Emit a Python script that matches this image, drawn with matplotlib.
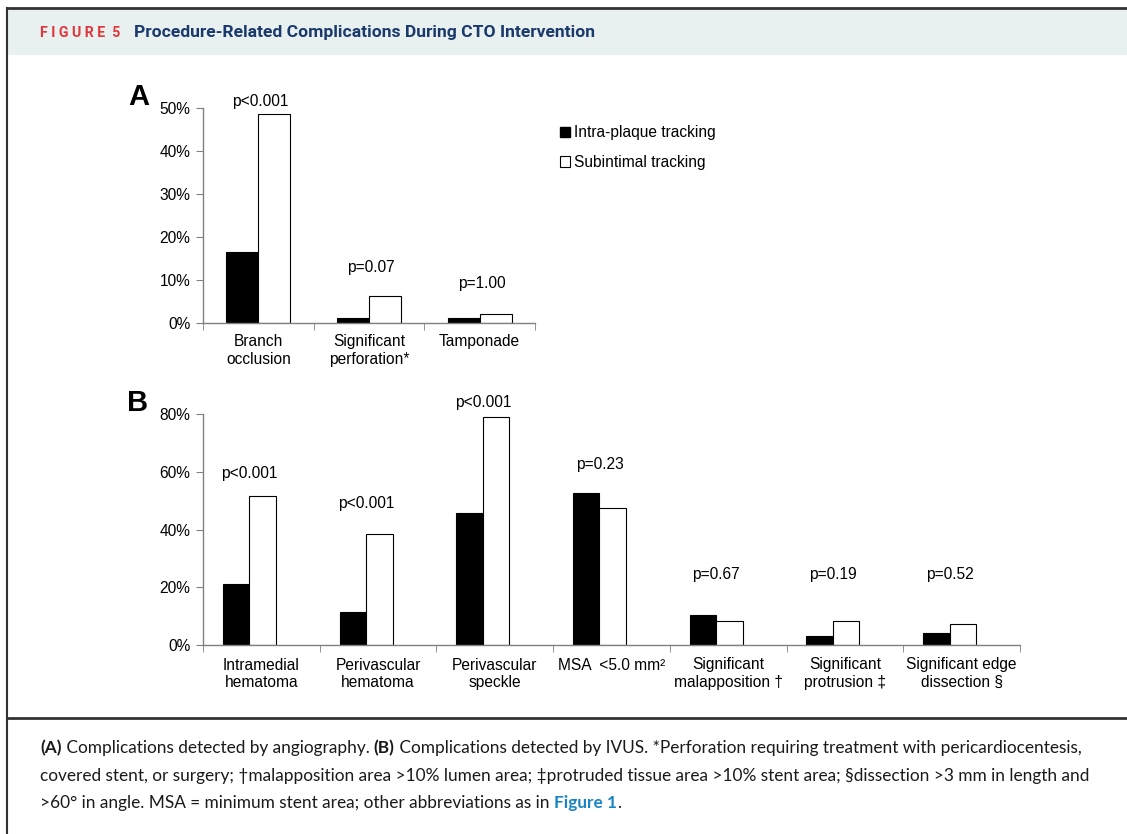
import matplotlib
matplotlib.use("Agg")
from matplotlib import pyplot as plt
from matplotlib.patches import Patch, Rectangle
from matplotlib.lines import Line2D
import numpy as np

# Data (percent of patients)
cats_a = ["Branch\nocclusion", "Significant\nperforation*", "Tamponade"]
intra_a = [16.4, 1.2, 1.2]
sub_a = [48.5, 6.3, 2.0]
pvals_a = ["p<0.001", "p=0.07", "p=1.00"]
pval_y_a = [51.6, 13.0, 9.3]

cats_b = ["Intramedial\nhematoma", "Perivascular\nhematoma", "Perivascular\nspeckle",
          "MSA  <5.0 mm\u00b2", "Significant\nmalapposition \u2020",
          "Significant\nprotrusion \u2021", "Significant edge\ndissection \u00a7"]
intra_b = [21.0, 11.6, 45.9, 52.7, 10.3, 3.1, 4.2]
sub_b = [51.8, 38.6, 78.9, 47.5, 8.4, 8.4, 7.2]
pvals_b = ["p<0.001", "p<0.001", "p<0.001", "p=0.23", "p=0.67", "p=0.19", "p=0.52"]
pval_y_b = [59.6, 48.9, 84.2, 62.7, 24.6, 24.6, 24.6]

legend_labels = ["Intra-plaque tracking", "Subintimal tracking"]

W, H = 1127, 834
FS = 11.2
plt.rcParams['font.family'] = ['Liberation Sans', 'DejaVu Sans']
fig = plt.figure(figsize=(W / 100, H / 100), dpi=100)


def fx(x):
    return x / W


def fy(y):
    return 1 - y / H


# frame, header band and separator
fig.add_artist(Rectangle((fx(8), fy(55)), 1, fy(9) - fy(55), transform=fig.transFigure,
                         facecolor="#e8f1f0", edgecolor="none"))
fig.add_artist(Line2D([fx(7), 1], [fy(8), fy(8)], transform=fig.transFigure, color="#333333", lw=2))
fig.add_artist(Line2D([fx(7), fx(7)], [0, fy(8)], transform=fig.transFigure, color="#333333", lw=1.5))
fig.add_artist(Line2D([fx(7), 1], [fy(718), fy(718)], transform=fig.transFigure, color="#333333", lw=2))

hdr_font = ['Roboto', 'DejaVu Sans']
fig.text(fx(40), fy(33), "F I G U R E  5", color="#e0373c", fontsize=10.2, fontweight="bold",
         family=hdr_font, va="center")
fig.text(fx(134), fy(33), "Procedure-Related Complications During CTO Intervention",
         color="#1b3a6b", fontsize=12.6, fontweight="bold", family=hdr_font, va="center")


def style_axes(ax, n, ymax, step):
    ax.set_xlim(0, n)
    ax.set_ylim(0, ymax)
    for s in ["top", "right"]:
        ax.spines[s].set_visible(False)
    for s in ["left", "bottom"]:
        ax.spines[s].set_color("#808080")
        ax.spines[s].set_linewidth(1.0)
    ax.set_yticks(np.arange(0, ymax + 1, step))
    ax.set_yticklabels(["%d%%" % v for v in np.arange(0, ymax + 1, step)], fontsize=FS)
    ax.tick_params(axis="y", direction="out", length=5, color="#808080", pad=4)
    ax.set_xticks(np.arange(n) + 0.5)
    ax.set_xticks(np.arange(n + 1), minor=True)
    ax.tick_params(axis="x", which="major", length=0, labelsize=FS)
    ax.tick_params(axis="x", which="minor", direction="out", length=5, color="#808080")


# Panel A
ax_a = fig.add_axes([fx(203), fy(323), fx(535) - fx(203), fy(108) - fy(323)])
xa = np.arange(len(cats_a)) + 0.5
wa = 0.29
ax_a.bar(xa - wa / 2, intra_a, wa, color="black", edgecolor="black", linewidth=0.8)
ax_a.bar(xa + wa / 2, sub_a, wa, color="white", edgecolor="black", linewidth=0.8)
style_axes(ax_a, len(cats_a), 50, 10)
ax_a.set_xticklabels(cats_a)
ax_a.tick_params(axis="x", which="major", pad=8)
for x, s, y in zip(xa, pvals_a, pval_y_a):
    ax_a.text(x + 0.02, y, s, ha="center", va="center", fontsize=FS)
fig.text(fx(139), fy(97), "A", fontsize=21, fontweight="bold", ha="center", va="center")

# Panel B
ax_b = fig.add_axes([fx(203), fy(645), fx(1020) - fx(203), fy(414.3) - fy(645)])
xb = np.arange(len(cats_b)) + 0.5 - 0.103
wb = 0.227
ax_b.bar(xb - wb / 2, intra_b, wb, color="black", edgecolor="black", linewidth=0.8)
ax_b.bar(xb + wb / 2, sub_b, wb, color="white", edgecolor="black", linewidth=0.8)
style_axes(ax_b, len(cats_b), 80, 20)
ax_b.set_xticklabels(cats_b)
ax_b.tick_params(axis="x", which="major", pad=9)
for x, s, y in zip(xb, pvals_b, pval_y_b):
    ax_b.text(x, y, s, ha="center", va="center", fontsize=FS)
fig.text(fx(138), fy(403), "B", fontsize=21, fontweight="bold", ha="center", va="center")

# legend
handles = [Patch(facecolor="black", edgecolor="black"),
           Patch(facecolor="white", edgecolor="black", linewidth=0.8)]
fig.legend(handles, legend_labels, loc="upper left", bbox_to_anchor=(fx(554), fy(119)),
           frameon=False, fontsize=FS, handlelength=0.62, handleheight=0.62,
           handletextpad=0.25, labelspacing=0.95, borderaxespad=0)

# caption with mixed styles
cap_font = ['Lato', 'DejaVu Sans']
blue = "#1a85c4"
ink = "#1a1a1a"
caption = [
    [("(A)", "bold", ink), (" Complications detected by angiography. ", "normal", ink),
     ("(B)", "bold", ink),
     (" Complications detected by IVUS. *Perforation requiring treatment with pericardiocentesis,", "normal", ink)],
    [("covered stent, or surgery; \u2020malapposition area >10% lumen area; \u2021protruded tissue area "
      ">10% stent area; \u00a7dissection >3 mm in length and", "normal", ink)],
    [(">60\u00b0 in angle. MSA = minimum stent area; other abbreviations as in ", "normal", ink),
     ("Figure 1", "bold", blue), (".", "normal", ink)],
]
cap_y = [748, 776, 803]
renderer = fig.canvas.get_renderer()
for line, y in zip(caption, cap_y):
    x = fx(40)
    for txt, wt, col in line:
        t = fig.text(x, fy(y), txt, fontsize=12.4, fontweight=wt, color=col, family=cap_font,
                     va="center", ha="left")
        bb = t.get_window_extent(renderer)
        x += bb.width / fig.bbox.width

fig.savefig("out.png", dpi=100, facecolor="white")
